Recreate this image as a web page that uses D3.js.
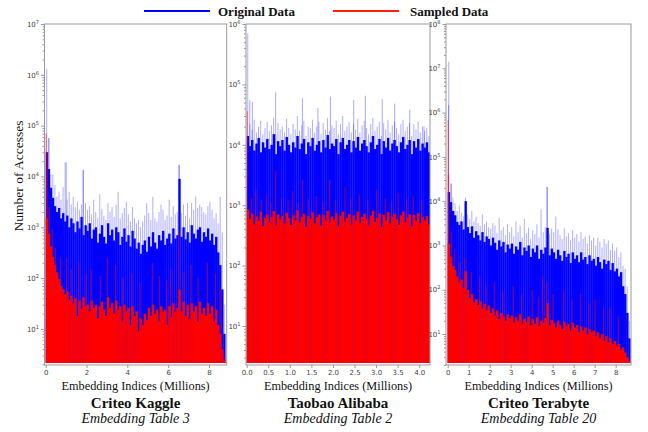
<!DOCTYPE html>
<html>
<head>
<meta charset="utf-8">
<script src="https://cdn.jsdelivr.net/npm/d3@7"></script>
<style>
  body { margin: 0; background: #fff; }
  svg { display: block; }
  .tick text { font-family: "DejaVu Sans", sans-serif; font-size: 7px; fill: #444; }
  .tick line { stroke: #999; }
</style>
</head>
<body>
<div id="chart"></div>
<script>
// ---- Criteo Kaggle, table 3 (bins of 0.1M indices) ----
const kaggleStep = 0.1;
const kaggleOrig = [
  30000, 14000, 6000, 3800, 2600, 2000, 2400, 1500, 1900, 1300,
  1700, 1000, 1500, 1200, 800, 1300, 950, 1600, 700, 1100,
  850, 1200, 600, 900, 1000, 500, 750, 1100, 650, 480,
  1200, 700, 900, 550, 1000, 800, 450, 650, 950, 520,
  700, 420, 850, 600, 380, 500, 300, 450, 550, 330,
  650, 420, 800, 500, 380, 700, 550, 850, 450, 600,
  750, 480, 950, 600, 700, 9000, 650, 1000, 580, 800,
  500, 1100, 750, 600, 900, 1000, 520, 800, 650, 950,
  550, 750, 450, 650, 320, 180, 60, 8
];
const kaggleOrigPeak = [
  1300000, 57000, 11000, 11000, 6800, 4000, 5000, 3500, 6200, 19000,
  3500, 5000, 2800, 4000, 2500, 3200, 2200, 2800, 13500, 3000,
  2200, 2600, 1800, 3500, 2000, 1500, 4500, 2300, 1700, 1400,
  3000, 2000, 2500, 1600, 2800, 5000, 1500, 1900, 2400, 3200,
  1800, 1300, 2500, 1500, 1200, 1400, 1000, 1300, 1700, 3000,
  1900, 1400, 4000, 1500, 1300, 2000, 2800, 2200, 1400, 1700,
  3500, 1600, 2600, 1800, 2000, 17000, 1900, 2800, 1700, 3000,
  1500, 3000, 2200, 4000, 2400, 2800, 2500, 2000, 1800, 2600,
  3200, 2200, 1500, 1900, 1200, 4000, 800, 30
];
const kaggleSamp = [
  1500, 750, 420, 260, 180, 130, 95, 70, 60, 48,
  55, 38, 45, 32, 40, 18, 36, 25, 42, 28,
  30, 22, 36, 26, 30, 16, 28, 34, 24, 18,
  42, 26, 32, 20, 36, 24, 28, 14, 30, 22,
  26, 12, 28, 18, 22, 9, 16, 12, 20, 15,
  26, 18, 30, 20, 24, 14, 28, 22, 24, 12,
  28, 17, 32, 22, 26, 60, 22, 34, 18, 30,
  16, 32, 22, 28, 14, 34, 20, 26, 18, 32,
  20, 28, 14, 24, 12, 8, 4, 2.5
];
const kaggleOrigSpikes = [[0.13, 57000], [0.98, 19000], [1.8, 13500], [6.5, 17000]];
const kaggleSampSpikes = [
  [0.0, 70000], [0.05, 30000], [0.15, 2500], [0.3, 900], [0.45, 400],
  [0.7, 250], [1.0, 250], [1.25, 150], [1.6, 200], [1.95, 120],
  [2.2, 150], [2.65, 110], [3.0, 250], [3.4, 180], [3.75, 100],
  [4.2, 120], [4.6, 80], [5.2, 200], [5.55, 110], [5.9, 90],
  [6.1, 150], [6.5, 800], [6.75, 130], [7.1, 180], [7.45, 100],
  [7.9, 200], [8.3, 120], [8.55, 60]
];

// ---- Taobao Alibaba, table 2 (bins of 0.05M indices) ----
const taobaoStep = 0.05;
const taobaoOrig = [
  14000, 9500, 12000, 8000, 10500, 13000, 7500, 11000, 9000, 12500,
  8500, 10000, 15000, 7000, 11500, 9500, 12000, 8000, 13500, 10000,
  7500, 11000, 9000, 14000, 8500, 10500, 12500, 7000, 11000, 9500,
  13000, 8000, 10000, 11500, 7500, 12000, 9000, 14500, 8500, 10500,
  9500, 12500, 7000, 11000, 13000, 8500, 10000, 12000, 7500, 11500,
  9000, 13500, 8000, 10500, 12000, 9500, 7500, 11000, 14000, 8500,
  10000, 12500, 7000, 11500, 9000, 13000, 8000, 10500, 12000, 9500,
  7500, 11000, 13500, 8500, 10000, 12000, 7000, 11500, 9000, 12500,
  8000, 10500, 9000, 11000, 7500
];
const taobaoOrigPeak = [
  700000, 22000, 18000, 26000, 16000, 20000, 25000, 15000, 19000, 24000,
  17000, 21000, 28000, 15000, 23000, 18000, 20000, 16000, 27000, 19000,
  15000, 22000, 18000, 30000, 17000, 21000, 25000, 14000, 20000, 19000,
  26000, 16000, 20000, 24000, 15000, 23000, 18000, 28000, 17000, 21000,
  19000, 25000, 15000, 22000, 30000, 17000, 20000, 24000, 16000, 22000,
  18000, 27000, 16000, 21000, 25000, 19000, 15000, 22000, 28000, 17000,
  20000, 24000, 14000, 23000, 18000, 26000, 16000, 21000, 24000, 19000,
  15000, 22000, 26000, 17000, 20000, 23000, 14000, 22000, 18000, 24000,
  16000, 20000, 17000, 19000, 14000
];
const taobaoSamp = [
  850, 600, 720, 480, 650, 560, 780, 450, 620, 700,
  520, 640, 800, 460, 700, 580, 660, 500, 750, 610,
  470, 680, 560, 820, 520, 640, 720, 440, 660, 590,
  760, 500, 630, 700, 460, 690, 560, 800, 520, 650,
  580, 740, 450, 670, 780, 530, 620, 710, 480, 680,
  560, 790, 500, 640, 720, 590, 460, 670, 810, 530,
  620, 730, 440, 690, 560, 770, 500, 650, 720, 580,
  470, 680, 790, 520, 620, 710, 450, 690, 560, 740,
  500, 640, 560, 660, 480
];
const taobaoOrigSpikes = [
  [0.06, 55000], [0.12, 51000], [0.66, 74000], [1.28, 59000], [1.64, 41000],
  [1.93, 63000], [2.47, 55000], [2.74, 65000], [3.13, 57000], [3.42, 48000],
  [3.77, 38000], [4.1, 20000]
];
const taobaoSampSpikes = [
  [0.0, 36000], [0.1, 1300], [0.2, 1800], [0.33, 1200], [0.45, 1500],
  [0.55, 1100], [0.66, 3800], [0.8, 1300], [0.95, 1200], [1.05, 1700],
  [1.18, 1100], [1.28, 2600], [1.42, 1250], [1.6, 1400], [1.75, 1150],
  [1.91, 2600], [2.05, 1200], [2.27, 2000], [2.4, 1300], [2.6, 1500],
  [2.8, 1200], [3.0, 1800], [3.2, 1300], [3.35, 1150], [3.5, 1600],
  [3.7, 1250], [3.85, 1400], [4.05, 1200]
];

// ---- Criteo Terabyte, table 20 (bins of 0.1M indices) ----
const terabyteStep = 0.1;
const terabyteOrig = [
  16000, 9500, 6000, 4800, 3400, 2900, 3500, 2300, 10000, 2600,
  1900, 2700, 1500, 2100, 1700, 1300, 2000, 1200, 1600, 1400,
  1000, 1500, 1150, 800, 1300, 950, 1200, 700, 1050, 850,
  1100, 650, 950, 800, 1200, 600, 900, 750, 1000, 550,
  850, 700, 1000, 500, 800, 650, 900, 2500, 600, 850,
  700, 500, 800, 600, 450, 750, 550, 650, 400, 700,
  500, 600, 420, 700, 480, 550, 380, 600, 450, 500,
  350, 550, 420, 300, 480, 380, 450, 280, 400, 260,
  300, 200, 250, 120, 80, 30, 8
];
const terabyteOrigPeak = [
  14000000, 25000, 12000, 9000, 6000, 8000, 5500, 4500, 12000, 5000,
  4000, 6000, 3500, 4500, 3200, 2800, 5000, 3000, 3500, 2600,
  2400, 3200, 2800, 1900, 4200, 2200, 2600, 1700, 3000, 2000,
  2600, 1600, 3500, 2000, 2800, 1500, 4000, 1900, 2500, 1400,
  2200, 1800, 3000, 1500, 6500, 2000, 2600, 21000, 1800, 2400,
  2000, 4500, 2300, 1700, 1400, 2500, 1600, 1900, 1300, 2200,
  1500, 1800, 1200, 2000, 1400, 1600, 1100, 1700, 1300, 1500,
  1000, 1500, 1200, 900, 1400, 1100, 1300, 800, 1100, 750,
  900, 550, 700, 350, 300, 120, 20
];
const terabyteSamp = [
  1100, 550, 340, 280, 200, 150, 170, 110, 260, 100,
  65, 80, 52, 62, 45, 55, 38, 48, 34, 44,
  30, 38, 26, 34, 22, 30, 25, 20, 28, 23,
  26, 18, 24, 20, 28, 17, 22, 19, 25, 16,
  22, 17, 24, 15, 20, 18, 23, 50, 16, 21,
  18, 14, 20, 16, 13, 19, 15, 17, 12, 18,
  14, 16, 11, 15, 12, 14, 10, 13, 11, 12,
  9, 11, 8, 10, 7, 9, 6.5, 8, 6, 7,
  5.5, 6, 4.5, 5, 3.8, 3, 2.5
];
const terabyteOrigSpikes = [[0.02, 1500000], [0.15, 25000], [4.7, 21000]];
const terabyteSampSpikes = [
  [0.0, 680000], [0.01, 40000], [0.15, 2000], [0.3, 800], [0.55, 400],
  [0.8, 500], [1.1, 250], [1.5, 200], [1.8, 130], [2.2, 150],
  [2.6, 90], [3.1, 120], [3.5, 80], [4.0, 100], [4.3, 70],
  [4.5, 200], [4.7, 150], [5.0, 80], [5.5, 90], [5.9, 60],
  [6.3, 80], [6.7, 50], [7.0, 60], [7.4, 40], [7.7, 40], [8.1, 25]
];

// ---- labels ----
const panelTitles = ["Criteo Kaggle", "Taobao Alibaba", "Criteo Terabyte"];
const panelSubtitles = ["Embedding Table 3", "Embedding Table 2", "Embedding Table 20"];
const kaggleTicks = [0, 2, 4, 6, 8];
const taobaoTicks = [0, 0.5, 1, 1.5, 2, 2.5, 3, 3.5, 4];
const terabyteTicks = [0, 1, 2, 3, 4, 5, 6, 7, 8];
const legendLabels = ["Original Data", "Sampled Data"];

const WIDTH = 648, HEIGHT = 432;
const TOP = 24, BOTTOM = 365;
const BLUE = "#0000ff", RED = "#ff0000";
const SERIF = "'Liberation Serif', 'Times New Roman', Times, serif";

const panels = [
  { left: 44.5, right: 226.7, xDomain: [-0.06, 8.87], yDomain: [1.95, 1e7],
    step: kaggleStep, orig: kaggleOrig, peak: kaggleOrigPeak, samp: kaggleSamp,
    origSpikes: kaggleOrigSpikes, sampSpikes: kaggleSampSpikes,
    ticks: kaggleTicks, fmt: d3.format("d") },
  { left: 246, right: 430, xDomain: [-0.016, 4.25], yDomain: [2.26, 1e6],
    step: taobaoStep, orig: taobaoOrig, peak: taobaoOrigPeak, samp: taobaoSamp,
    origSpikes: taobaoOrigSpikes, sampSpikes: taobaoSampSpikes,
    ticks: taobaoTicks, fmt: d3.format(".1f") },
  { left: 446, right: 631, xDomain: [-0.08, 8.73], yDomain: [2.0, 1e8],
    step: terabyteStep, orig: terabyteOrig, peak: terabyteOrigPeak, samp: terabyteSamp,
    origSpikes: terabyteOrigSpikes, sampSpikes: terabyteSampSpikes,
    ticks: terabyteTicks, fmt: d3.format("d") }
];

const svg = d3.select("#chart").append("svg")
  .attr("width", WIDTH).attr("height", HEIGHT);

function addText(x, y, str, size, opts = {}) {
  return svg.append("text").attr("x", x).attr("y", y)
    .attr("text-anchor", opts.anchor || "middle")
    .style("font-family", SERIF).style("font-size", size + "px")
    .style("font-weight", opts.bold ? "bold" : "normal")
    .style("font-style", opts.italic ? "italic" : "normal")
    .style("fill", "#111").text(str);
}

/**
 * Draw one histogram panel (bars, spikes, frame, axes)
 */
function drawPanel(p, idx) {
  const x = d3.scaleLinear().domain(p.xDomain).range([p.left, p.right]);
  const y = d3.scaleLog().domain(p.yDomain).range([BOTTOM, TOP]);
  const base = BOTTOM - 2;
  const bw = x(p.step) - x(0);

  svg.append("clipPath").attr("id", "clip" + idx)
    .append("rect").attr("x", p.left).attr("y", TOP)
    .attr("width", p.right - p.left).attr("height", BOTTOM - TOP);

  const g = svg.append("g").attr("clip-path", `url(#clip${idx})`);

  // light blue peaks of the original counts, thin lines so white shows between
  g.selectAll(".pline").data(p.peak).join("line")
    .attr("x1", (d, i) => x(i * p.step) + bw * 0.5).attr("x2", (d, i) => x(i * p.step) + bw * 0.5)
    .attr("y1", base).attr("y2", (d) => y(d))
    .attr("stroke", BLUE).attr("stroke-opacity", 0.32).attr("stroke-width", 1);

  g.selectAll(".ospike").data(p.origSpikes).join("line")
    .attr("x1", (d) => x(d[0]) + 0.5).attr("x2", (d) => x(d[0]) + 0.5)
    .attr("y1", base).attr("y2", (d) => y(d[1]))
    .attr("stroke", BLUE).attr("stroke-opacity", 0.35).attr("stroke-width", 1);

  // original data body
  g.selectAll(".obar").data(p.orig).join("rect")
    .attr("x", (d, i) => x(i * p.step)).attr("width", bw + 0.3)
    .attr("y", (d) => y(d)).attr("height", (d) => base - y(d))
    .attr("fill", BLUE);

  // sampled spikes (semi transparent, purple over blue)
  g.selectAll(".sspike").data(p.sampSpikes).join("line")
    .attr("x1", (d) => x(d[0]) + 0.5).attr("x2", (d) => x(d[0]) + 0.5)
    .attr("y1", base).attr("y2", (d) => y(d[1]))
    .attr("stroke", RED).attr("stroke-opacity", 0.5).attr("stroke-width", 1.2);

  // sampled data body
  g.selectAll(".sbar").data(p.samp).join("rect")
    .attr("x", (d, i) => x(i * p.step)).attr("width", bw + 0.3)
    .attr("y", (d) => y(d)).attr("height", (d) => base - y(d))
    .attr("fill", RED);

  // frame
  svg.append("rect").attr("x", p.left).attr("y", TOP)
    .attr("width", p.right - p.left).attr("height", BOTTOM - TOP)
    .attr("fill", "none").attr("stroke", "#999").attr("stroke-width", 1);

  // x axis
  const xa = svg.append("g").attr("transform", `translate(0,${BOTTOM})`)
    .call(d3.axisBottom(x).tickValues(p.ticks).tickSize(3).tickPadding(2).tickFormat(p.fmt));
  xa.select(".domain").remove();

  // y axis, major ticks with superscript labels
  const lo = Math.ceil(Math.log10(p.yDomain[0]));
  const hi = Math.floor(Math.log10(p.yDomain[1]));
  const powers = d3.range(lo, hi + 1).map((e) => Math.pow(10, e));
  const ya = svg.append("g").attr("transform", `translate(${p.left},0)`)
    .call(d3.axisLeft(y).tickValues(powers).tickSize(3.5).tickPadding(2).tickFormat(() => ""));
  ya.select(".domain").remove();
  ya.selectAll(".tick text").each(function (d) {
    const t = d3.select(this);
    t.append("tspan").text("10");
    t.append("tspan").attr("dy", -3).style("font-size", "5px")
      .text(Math.round(Math.log10(d)));
  });

  // minor ticks
  const minors = [];
  for (let e = 0; e < hi; e++) {
    for (let k = 2; k <= 9; k++) {
      const v = k * Math.pow(10, e);
      if (v >= p.yDomain[0] && v <= p.yDomain[1]) minors.push(v);
    }
  }
  const ym = svg.append("g").attr("transform", `translate(${p.left},0)`)
    .call(d3.axisLeft(y).tickValues(minors).tickSize(2).tickFormat(() => ""));
  ym.select(".domain").remove();

  // labels under the panel
  const cx = (p.left + p.right) / 2;
  addText(cx, 390, "Embedding Indices (Millions)", 12.3);
  addText(cx, 408, panelTitles[idx], 15, { bold: true });
  addText(cx, 423, panelSubtitles[idx], 14, { italic: true });
}

panels.forEach(drawPanel);

// y axis title
addText(0, 0, "Number of Accesses", 13.5).attr("transform", "translate(23,176) rotate(-90)");

// legend
const legendItems = [
  { x1: 144, x2: 210, tx: 218, color: BLUE, label: legendLabels[0] },
  { x1: 333, x2: 399, tx: 410, color: "#ff2010", label: legendLabels[1] }
];
legendItems.forEach((it) => {
  svg.append("line").attr("x1", it.x1).attr("x2", it.x2).attr("y1", 11).attr("y2", 11)
    .attr("stroke", it.color).attr("stroke-width", 2);
  addText(it.tx, 15.5, it.label, 13, { bold: true, anchor: "start" });
});
</script>
</body>
</html>
